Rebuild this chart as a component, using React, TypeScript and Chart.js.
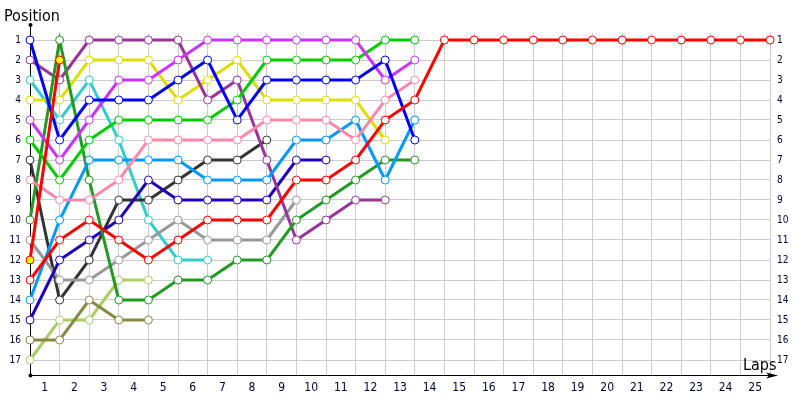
import React, { useEffect, useRef } from "react";
import { Chart, registerables } from "chart.js";

Chart.register(...registerables);

// Lap tick labels (x) and position tick labels (y)
const lapTicks = [1, 2, 3, 4, 5, 6, 7, 8, 9, 10, 11, 12, 13, 14, 15, 16, 17, 18, 19, 20, 21, 22, 23, 24, 25];
const positionTicks = [1, 2, 3, 4, 5, 6, 7, 8, 9, 10, 11, 12, 13, 14, 15, 16, 17];

// Position per lap (index 0 = start grid). null = no longer running.
const redDriver = [13, 11, 10, 11, 12, 11, 10, 10, 10, 8, 8, 7, 5, 4, 1, 1, 1, 1, 1, 1, 1, 1, 1, 1, 1, 1];
const redYellowDriver = [12, 2];
const blueDriver = [1, 6, 4, 4, 4, 3, 2, 5, 3, 3, 3, 3, 2, 6];
const purpleDriver = [2, 3, 1, 1, 1, 1, 4, 3, 7, 11, 10, 9, 9];
const cyanDriver = [3, 5, 3, 6, 10, 12, 12];
const yellowDriver = [4, 4, 2, 2, 2, 4, 3, 2, 4, 4, 4, 4, 6];
const magentaDriver = [5, 7, 5, 3, 3, 2, 1, 1, 1, 1, 1, 1, 3, 2];
const greenDriver = [6, 8, 6, 5, 5, 5, 5, 4, 2, 2, 2, 2, 1, 1];
const blackDriver = [7, 14, 12, 9, 9, 8, 7, 7, 6];
const pinkDriver = [8, 9, 9, 8, 6, 6, 6, 6, 5, 5, 5, 6, 4, 3];
const darkGreenDriver = [10, 1, 8, 14, 14, 13, 13, 12, 12, 10, 9, 8, 7, 7];
const greyDriver = [11, 13, 13, 12, 11, 10, 11, 11, 11, 9];
const skyDriver = [14, 10, 7, 7, 7, 7, 8, 8, 8, 6, 6, 5, 8, 5];
const navyDriver = [15, 12, 11, 10, 8, 9, 9, 9, 9, 7, 7];
const oliveDriver = [16, 16, 14, 15, 15];
const lightOliveDriver = [17, 15, 15, 13, 13];

const series = [
  { name: "red", data: redDriver, color: "#ff0000", fill: "#ffffff" },
  { name: "redYellow", data: redYellowDriver, color: "#ff0000", fill: "#ffff00" },
  { name: "blue", data: blueDriver, color: "#0000ff", fill: "#ffffff" },
  { name: "magenta", data: magentaDriver, color: "#cc33ff", fill: "#ffffff" },
  { name: "green", data: greenDriver, color: "#00cc00", fill: "#ffffff" },
  { name: "pink", data: pinkDriver, color: "#ff88aa", fill: "#ffffff" },
  { name: "sky", data: skyDriver, color: "#0099ff", fill: "#ffffff" },
  { name: "darkGreen", data: darkGreenDriver, color: "#229922", fill: "#ffffff" },
  { name: "purple", data: purpleDriver, color: "#993399", fill: "#ffffff" },
  { name: "yellow", data: yellowDriver, color: "#dddd00", fill: "#ffffff" },
  { name: "navy", data: navyDriver, color: "#2200bb", fill: "#ffffff" },
  { name: "grey", data: greyDriver, color: "#999999", fill: "#ffffff" },
  { name: "black", data: blackDriver, color: "#333333", fill: "#ffffff" },
  { name: "cyan", data: cyanDriver, color: "#33cccc", fill: "#ffffff" },
  { name: "olive", data: oliveDriver, color: "#888844", fill: "#ffffff" },
  { name: "lightOlive", data: lightOliveDriver, color: "#aacc66", fill: "#ffffff" },
];

const FONT = "'DejaVu Sans Condensed', 'DejaVu Sans', Tahoma, sans-serif";
const LABEL_COLOR = "#000033";

const decor = {
  id: "decor",
  beforeDatasetsDraw(chart: any) {
    const { ctx, chartArea } = chart;
    const { left, right, bottom } = chartArea;
    const x0 = Math.round(left) + 0.5;
    const y0 = Math.round(bottom) + 0.5;
    ctx.save();
    ctx.strokeStyle = "#000000";
    ctx.lineWidth = 1;
    ctx.beginPath();
    ctx.moveTo(x0, 25);
    ctx.lineTo(x0, y0);
    ctx.lineTo(right + 4, y0);
    ctx.stroke();
    ctx.fillStyle = "#000000";
    ctx.beginPath();
    ctx.arc(x0, 25, 2, 0, Math.PI * 2);
    ctx.fill();
    ctx.beginPath();
    ctx.arc(x0, y0, 2, 0, Math.PI * 2);
    ctx.fill();
    ctx.beginPath();
    ctx.moveTo(right + 8, y0);
    ctx.lineTo(right - 4, y0 - 3);
    ctx.lineTo(right - 1, y0);
    ctx.lineTo(right - 4, y0 + 3);
    ctx.closePath();
    ctx.fill();
    ctx.restore();
  },
  afterDraw(chart: any) {
    const { ctx } = chart;
    ctx.save();
    ctx.fillStyle = "#000000";
    ctx.font = `16px ${FONT}`;
    ctx.textBaseline = "alphabetic";
    ctx.textAlign = "left";
    ctx.fillText("Position", 4, 21);
    ctx.fillText("Laps", 743, 370);
    ctx.restore();
  },
};

export default function App() {
  const ref = useRef<HTMLCanvasElement | null>(null);

  useEffect(() => {
    if (!ref.current) return;
    const datasets = series.map((s) => ({
      label: s.name,
      data: s.data.map((p, i) => ({ x: i, y: p })),
      borderColor: s.color,
      backgroundColor: s.fill,
      borderWidth: 3,
      pointRadius: 4,
      pointBorderWidth: 1,
      pointBackgroundColor: s.fill,
      pointBorderColor: s.color,
      tension: 0,
      clip: 10,
    }));

    const chart = new Chart(ref.current, {
      type: "line",
      data: { datasets },
      plugins: [decor],
      options: {
        animation: false,
        responsive: false,
        events: [],
        layout: { padding: { top: 33, left: 0, right: 0, bottom: 0 } },
        plugins: { legend: { display: false }, tooltip: { enabled: false }, title: { display: false } },
        scales: {
          x: {
            type: "linear",
            position: "bottom",
            min: 0,
            max: 25,
            afterBuildTicks: (s: any) => {
              s.ticks = lapTicks.map((v) => ({ value: v }));
            },
            afterFit: (s: any) => {
              s.height = 25;
            },
            grid: { color: "#cccccc", lineWidth: 1, drawTicks: false },
            border: { display: false },
            ticks: {
              autoSkip: false,
              maxRotation: 0,
              labelOffset: -14.8,
              padding: 6,
              color: LABEL_COLOR,
              font: { family: FONT, size: 12 },
              callback: (v: any) => String(v),
            },
          },
          y: {
            type: "linear",
            position: "left",
            reverse: true,
            min: 0.65,
            max: 17.75,
            afterBuildTicks: (s: any) => {
              s.ticks = positionTicks.map((v) => ({ value: v }));
            },
            afterFit: (s: any) => {
              s.width = 30;
            },
            grid: { color: "#cccccc", lineWidth: 1, drawTicks: false },
            border: { display: false },
            ticks: {
              padding: 9,
              color: LABEL_COLOR,
              font: { family: FONT, size: 10 },
              callback: (v: any) => String(v),
            },
          },
          y2: {
            type: "linear",
            position: "right",
            reverse: true,
            min: 0.65,
            max: 17.75,
            afterBuildTicks: (s: any) => {
              s.ticks = positionTicks.map((v) => ({ value: v }));
            },
            afterFit: (s: any) => {
              s.width = 30;
            },
            grid: { display: false, drawTicks: false },
            border: { display: false },
            ticks: {
              padding: 7,
              color: LABEL_COLOR,
              font: { family: FONT, size: 10 },
              callback: (v: any) => String(v),
            },
          },
        },
      },
    } as any);

    return () => chart.destroy();
  }, []);

  return (
    <div style={{ position: "absolute", left: 0, top: 0, width: 800, height: 400, background: "#ffffff" }}>
      <canvas ref={ref} width={800} height={400} style={{ width: 800, height: 400, display: "block" }} />
    </div>
  );
}
